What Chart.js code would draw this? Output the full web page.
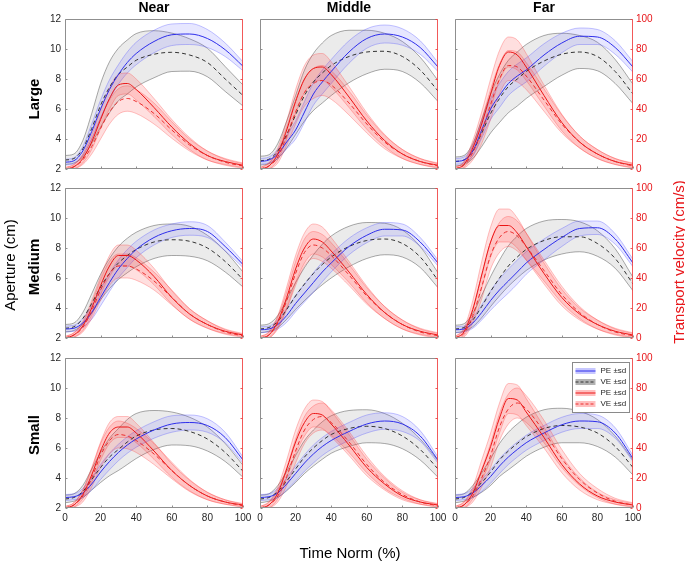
<!DOCTYPE html>
<html>
<head>
<meta charset="utf-8">
<script src="https://cdn.jsdelivr.net/npm/chart.js@4.4.0/dist/chart.umd.min.js"></script>
<style>
  body { margin: 0; background: #fff; width: 685px; height: 562px; position: relative; overflow: hidden;
         font-family: "Liberation Sans", Arial, sans-serif; }
  canvas { position: absolute; }
  .lbl { position: absolute; white-space: nowrap; line-height: 1; }
  .title { font-weight: bold; font-size: 14px; transform: translate(-50%, 0); }
  .row { font-weight: bold; font-size: 15px; transform: translate(-50%, -50%) rotate(-90deg); }
  .axis { font-size: 15px; transform: translate(-50%, -50%); }
  .vert { transform: translate(-50%, -50%) rotate(-90deg); }
</style>
</head>
<body>

<script>
// time axis samples (% of movement)
const timePts = [0, 5, 10, 15, 20, 25, 30, 35, 40, 50, 60, 70, 80, 90, 100];
const apertureTicks = [2, 4, 6, 8, 10, 12];
const velocityTicks = [0, 20, 40, 60, 80, 100];
const timeTicks = [0, 20, 40, 60, 80, 100];

// ---- Near / Large ----
const nearLargeApPE   = [2.45, 2.55, 3.2, 4.5, 6.0, 7.3, 8.3, 9.1, 9.7, 10.5, 10.95, 11.0, 10.7, 9.95, 8.85];
const nearLargeApPEsd = [0.2, 0.2, 0.3, 0.5, 0.6, 0.65, 0.65, 0.7, 0.75, 0.75, 0.72, 0.7, 0.6, 0.45, 0.3];
const nearLargeApVE   = [2.6, 2.7, 3.35, 4.7, 6.25, 7.45, 8.3, 8.8, 9.25, 9.65, 9.78, 9.6, 9.1, 8.0, 6.9];
const nearLargeApVEsd = [0.3, 0.3, 0.55, 1.0, 1.45, 1.7, 1.75, 1.8, 1.78, 1.57, 1.28, 1.08, 0.95, 0.83, 0.7];
const nearLargeVPE    = [0, 1.5, 7, 18, 33, 47, 56, 57, 53, 41, 28, 17, 9, 5, 2.5];
const nearLargeVPEsd  = [1, 1.5, 3, 5, 6, 7, 7, 7, 7, 6, 5, 4, 3, 2, 1.5];
const nearLargeVVE    = [0, 1.5, 6, 15, 27, 38, 45, 47, 45, 37, 26, 16, 9, 4.5, 2];
const nearLargeVVEsd  = [1, 1.5, 3, 5, 7, 8, 8.5, 8.5, 8, 7, 5.5, 4, 3, 2, 1.5];

// ---- Middle / Large ----
const midLargeApPE   = [2.5, 2.6, 3.0, 3.8, 4.6, 5.8, 7.0, 7.8, 8.5, 9.8, 10.7, 11.0, 10.8, 10.1, 8.8];
const midLargeApPEsd = [0.2, 0.2, 0.3, 0.45, 0.6, 0.7, 0.75, 0.8, 0.8, 0.75, 0.65, 0.6, 0.55, 0.45, 0.3];
const midLargeApVE   = [2.55, 2.65, 3.2, 4.3, 5.6, 6.9, 7.8, 8.4, 8.9, 9.5, 9.8, 9.85, 9.5, 8.6, 7.2];
const midLargeApVEsd = [0.3, 0.3, 0.5, 0.9, 1.3, 1.7, 1.9, 2.0, 2.0, 1.75, 1.45, 1.2, 1.0, 0.85, 0.7];
const midLargeVPE    = [0, 2, 10, 26, 45, 60, 67, 68, 63, 48, 32, 19, 10, 5, 2.5];
const midLargeVPEsd  = [1, 2, 4, 6, 8, 9, 9, 9, 8.5, 7, 5.5, 4, 3, 2, 1.5];
const midLargeVVE    = [0, 2, 8, 22, 38, 51, 57, 59, 56, 44, 30, 18, 10, 5, 2];
const midLargeVVEsd  = [1, 2, 4, 6, 8, 9, 10, 10, 9.5, 8, 6, 4.5, 3, 2, 1.5];

// ---- Far / Large ----
const farLargeApPE   = [2.5, 2.6, 3.2, 4.6, 6.0, 6.9, 7.7, 8.2, 8.6, 9.6, 10.4, 10.85, 10.8, 10.1, 8.8];
const farLargeApPEsd = [0.2, 0.2, 0.35, 0.55, 0.7, 0.8, 0.8, 0.8, 0.8, 0.75, 0.65, 0.55, 0.5, 0.45, 0.35];
const farLargeApVE   = [2.5, 2.6, 3.2, 4.4, 5.7, 6.7, 7.5, 8.0, 8.5, 9.2, 9.65, 9.8, 9.5, 8.5, 7.0];
const farLargeApVEsd = [0.3, 0.3, 0.5, 0.9, 1.3, 1.6, 1.75, 1.8, 1.8, 1.7, 1.4, 1.1, 0.95, 0.8, 0.65];
const farLargeVPE    = [0, 3, 14, 30, 50, 69, 78, 76, 68, 49, 31, 18, 10, 5, 2.5];
const farLargeVPEsd  = [1, 2, 5, 8, 10, 10, 10, 10, 9, 7, 5.5, 4, 3, 2, 1.5];
const farLargeVVE    = [0, 2.5, 11, 25, 43, 60, 69, 68, 62, 46, 30, 18, 10, 5, 2];
const farLargeVVEsd  = [1, 2, 5, 8, 10, 10, 10, 10, 9, 7.5, 6, 4, 3, 2, 1.5];

// ---- Near / Medium ----
const nearMedApPE   = [2.6, 2.65, 3.0, 3.7, 4.7, 5.7, 6.6, 7.3, 7.9, 8.7, 9.15, 9.3, 9.1, 8.1, 6.9];
const nearMedApPEsd = [0.2, 0.2, 0.3, 0.45, 0.55, 0.6, 0.6, 0.6, 0.55, 0.5, 0.45, 0.45, 0.4, 0.3, 0.2];
const nearMedApVE   = [2.65, 2.75, 3.3, 4.3, 5.4, 6.3, 7.0, 7.5, 7.9, 8.4, 8.55, 8.45, 8.0, 7.1, 5.9];
const nearMedApVEsd = [0.25, 0.25, 0.4, 0.65, 0.85, 1.0, 1.1, 1.15, 1.15, 1.1, 1.05, 1.0, 0.85, 0.7, 0.5];
const nearMedVPE    = [0, 2, 8, 20, 35, 48, 55, 55, 52, 41, 27, 16, 9, 4.5, 2];
const nearMedVPEsd  = [1, 1.5, 3, 5, 6, 7, 7, 7, 6.5, 5.5, 4.5, 3.5, 2.5, 1.5, 1];
const nearMedVVE    = [0, 2, 7, 18, 32, 43, 48, 48, 46, 38, 27, 16, 9, 4, 1.5];
const nearMedVVEsd  = [1, 1.5, 3, 5, 7, 8, 8, 8, 7.5, 6, 5, 3.5, 2.5, 1.5, 1];

// ---- Middle / Medium ----
const midMedApPE   = [2.55, 2.6, 2.9, 3.5, 4.3, 5.0, 5.7, 6.4, 7.0, 8.1, 8.85, 9.25, 9.2, 8.4, 7.0];
const midMedApPEsd = [0.2, 0.2, 0.3, 0.45, 0.55, 0.6, 0.65, 0.65, 0.6, 0.55, 0.5, 0.45, 0.4, 0.3, 0.2];
const midMedApVE   = [2.6, 2.7, 3.1, 3.9, 4.8, 5.6, 6.3, 6.9, 7.4, 8.1, 8.5, 8.6, 8.3, 7.4, 5.85];
const midMedApVEsd = [0.25, 0.25, 0.4, 0.65, 0.9, 1.1, 1.25, 1.35, 1.4, 1.35, 1.2, 1.05, 0.9, 0.7, 0.5];
const midMedVPE    = [0, 2, 11, 27, 46, 60, 66, 64, 58, 44, 29, 17, 9, 4.5, 2];
const midMedVPEsd  = [1, 2, 4, 7, 9, 10, 10, 10, 9, 7, 5.5, 4, 3, 2, 1.5];
const midMedVVE    = [0, 2, 10, 25, 43, 57, 62, 60, 55, 42, 28, 17, 9, 4, 1.5];
const midMedVVEsd  = [1, 2, 4, 6, 8, 9, 9, 9, 8.5, 7, 5.5, 4, 3, 2, 1.5];

// ---- Far / Medium ----
const farMedApPE   = [2.55, 2.6, 3.0, 3.7, 4.5, 5.2, 5.8, 6.4, 7.0, 7.9, 8.7, 9.3, 9.35, 8.6, 7.0];
const farMedApPEsd = [0.2, 0.2, 0.35, 0.5, 0.65, 0.75, 0.8, 0.8, 0.75, 0.7, 0.6, 0.5, 0.45, 0.35, 0.25];
const farMedApVE   = [2.6, 2.7, 3.2, 4.1, 5.1, 6.0, 6.8, 7.4, 7.9, 8.5, 8.75, 8.75, 8.3, 7.3, 5.6];
const farMedApVEsd = [0.25, 0.25, 0.45, 0.75, 1.0, 1.2, 1.35, 1.4, 1.4, 1.3, 1.15, 1.0, 0.85, 0.65, 0.45];
const farMedVPE    = [0, 4, 19, 42, 64, 75, 75, 70, 61, 43, 27, 16, 9, 4.5, 2];
const farMedVPEsd  = [1, 2.5, 6, 9, 10, 11, 11, 10, 9, 7, 5.5, 4, 3, 2, 1.5];
const farMedVVE    = [0, 3, 15, 34, 55, 67, 71, 68, 61, 45, 29, 17, 9, 4, 1.5];
const farMedVVEsd  = [1, 2.5, 5, 8, 9, 10, 10, 10, 9, 7, 5.5, 4, 3, 2, 1.5];

// ---- Near / Small ----
const nearSmallApPE   = [2.7, 2.75, 3.0, 3.6, 4.4, 5.1, 5.7, 6.2, 6.6, 7.2, 7.6, 7.7, 7.5, 6.7, 5.2];
const nearSmallApPEsd = [0.2, 0.2, 0.3, 0.4, 0.5, 0.55, 0.55, 0.55, 0.55, 0.55, 0.55, 0.5, 0.45, 0.35, 0.2];
const nearSmallApVE   = [2.6, 2.7, 3.1, 3.9, 4.7, 5.4, 5.9, 6.4, 6.8, 7.2, 7.3, 7.1, 6.6, 5.7, 4.45];
const nearSmallApVEsd = [0.25, 0.25, 0.4, 0.7, 1.0, 1.25, 1.4, 1.5, 1.5, 1.3, 1.1, 0.95, 0.8, 0.6, 0.4];
const nearSmallVPE    = [0, 2, 9, 22, 38, 50, 54, 54, 50, 38, 25, 15, 8, 4, 2];
const nearSmallVPEsd  = [1, 1.5, 3, 5, 6, 7, 7, 7, 6.5, 5.5, 4.5, 3.5, 2.5, 1.5, 1];
const nearSmallVVE    = [0, 2, 8, 20, 35, 45, 49, 48, 45, 36, 25, 15, 8, 4, 1.5];
const nearSmallVVEsd  = [1, 1.5, 4, 6, 8, 9, 9, 8.5, 8, 7, 5.5, 4, 2.5, 1.5, 1];

// ---- Middle / Small ----
const midSmallApPE   = [2.7, 2.75, 3.0, 3.6, 4.3, 5.0, 5.6, 6.1, 6.5, 7.1, 7.6, 7.8, 7.6, 6.8, 5.2];
const midSmallApPEsd = [0.2, 0.2, 0.3, 0.4, 0.5, 0.55, 0.6, 0.6, 0.6, 0.6, 0.6, 0.55, 0.5, 0.35, 0.2];
const midSmallApVE   = [2.6, 2.7, 3.1, 3.8, 4.6, 5.4, 6.0, 6.5, 6.9, 7.3, 7.45, 7.3, 6.8, 5.9, 4.6];
const midSmallApVEsd = [0.25, 0.25, 0.4, 0.65, 0.9, 1.1, 1.2, 1.25, 1.25, 1.2, 1.1, 1.0, 0.85, 0.7, 0.55];
const midSmallVPE    = [0, 2, 10, 26, 44, 57, 63, 62, 56, 42, 27, 16, 8, 4, 2];
const midSmallVPEsd  = [1, 2, 4, 6, 8, 9, 9, 9, 8.5, 7, 5.5, 4, 2.5, 1.5, 1];
const midSmallVVE    = [0, 2, 8, 21, 38, 52, 59, 61, 57, 44, 29, 17, 9, 4, 1.5];
const midSmallVVEsd  = [1, 2, 4, 6, 8, 9, 9, 9, 8.5, 7, 5.5, 4, 2.5, 1.5, 1];

// ---- Far / Small ----
const farSmallApPE   = [2.7, 2.75, 3.0, 3.5, 4.1, 4.8, 5.4, 5.9, 6.35, 7.0, 7.55, 7.8, 7.75, 7.0, 5.3];
const farSmallApPEsd = [0.2, 0.2, 0.3, 0.4, 0.45, 0.5, 0.5, 0.5, 0.5, 0.5, 0.5, 0.5, 0.45, 0.35, 0.2];
const farSmallApVE   = [2.6, 2.7, 3.1, 3.7, 4.4, 5.2, 5.8, 6.3, 6.75, 7.3, 7.5, 7.4, 7.0, 6.1, 4.7];
const farSmallApVEsd = [0.25, 0.25, 0.4, 0.65, 0.9, 1.1, 1.25, 1.3, 1.3, 1.25, 1.15, 1.05, 0.9, 0.7, 0.5];
const farSmallVPE    = [0, 2, 10, 25, 41, 60, 73, 72, 64, 47, 29, 16, 8, 4, 2];
const farSmallVPEsd  = [1, 2, 4, 7, 9, 10, 10, 10, 9, 7, 5.5, 4, 2.5, 1.5, 1];
const farSmallVVE    = [0, 2, 8, 20, 35, 54, 66, 70, 66, 51, 33, 19, 10, 4.5, 2];
const farSmallVVEsd  = [1, 2, 4, 6, 8, 9, 10, 10, 9, 7.5, 6, 4, 3, 2, 1.5];

const colLabels = ['Near', 'Middle', 'Far'];
const rowLabels = ['Large', 'Medium', 'Small'];

const panels = [
  [nearLargeApPE, nearLargeApPEsd, nearLargeApVE, nearLargeApVEsd, nearLargeVPE, nearLargeVPEsd, nearLargeVVE, nearLargeVVEsd],
  [midLargeApPE, midLargeApPEsd, midLargeApVE, midLargeApVEsd, midLargeVPE, midLargeVPEsd, midLargeVVE, midLargeVVEsd],
  [farLargeApPE, farLargeApPEsd, farLargeApVE, farLargeApVEsd, farLargeVPE, farLargeVPEsd, farLargeVVE, farLargeVVEsd],
  [nearMedApPE, nearMedApPEsd, nearMedApVE, nearMedApVEsd, nearMedVPE, nearMedVPEsd, nearMedVVE, nearMedVVEsd],
  [midMedApPE, midMedApPEsd, midMedApVE, midMedApVEsd, midMedVPE, midMedVPEsd, midMedVVE, midMedVVEsd],
  [farMedApPE, farMedApPEsd, farMedApVE, farMedApVEsd, farMedVPE, farMedVPEsd, farMedVVE, farMedVVEsd],
  [nearSmallApPE, nearSmallApPEsd, nearSmallApVE, nearSmallApVEsd, nearSmallVPE, nearSmallVPEsd, nearSmallVVE, nearSmallVVEsd],
  [midSmallApPE, midSmallApPEsd, midSmallApVE, midSmallApVEsd, midSmallVPE, midSmallVPEsd, midSmallVVE, midSmallVVEsd],
  [farSmallApPE, farSmallApPEsd, farSmallApVE, farSmallApVEsd, farSmallVPE, farSmallVPEsd, farSmallVVE, farSmallVVEsd]
];

// layout of the plot boxes on the page
const plotLefts = [65, 260, 455];
const plotTops = [19, 188, 358];
const PW = 178, PH = 150;
const AXW = 30, PADT = 6, XAH = 20;

const FONT = '"Liberation Sans", Arial, sans-serif';
const RED = 'rgb(232,22,26)';
const styles = {
  apPE: { line: 'rgb(45,45,235)', band: 'rgba(70,70,255,0.13)', edge: 'rgba(70,70,255,0.4)', dash: [] },
  apVE: { line: '#333', band: 'rgba(0,0,0,0.08)', edge: 'rgba(0,0,0,0.42)', dash: [4, 3] },
  vPE: { line: 'rgb(235,20,20)', band: 'rgba(255,40,40,0.15)', edge: 'rgba(255,40,40,0.35)', dash: [] },
  vVE: { line: 'rgb(235,45,45)', band: 'rgba(255,40,40,0.15)', edge: 'rgba(255,40,40,0.35)', dash: [4, 3] }
};

function pts(arr) {
  return timePts.map((t, i) => ({ x: t, y: arr[i] }));
}

function addSeries(list, mean, sd, axis, st, bandOrder) {
  const upper = mean.map((m, i) => m + sd[i]);
  const lower = mean.map((m, i) => m - sd[i]);
  const common = { yAxisID: axis, pointRadius: 0, borderWidth: 0.8, cubicInterpolationMode: 'monotone' };
  list.push({ ...common, data: pts(upper), borderColor: st.edge, backgroundColor: st.band, fill: '+1', order: bandOrder });
  list.push({ ...common, data: pts(lower), borderColor: st.edge, fill: false, order: bandOrder });
  list.push({ ...common, data: pts(mean), borderColor: st.line, borderWidth: 1, borderDash: st.dash, fill: false, order: 1 });
}

// keep every plot box the same size whatever labels are shown
function fixScale(s, size) {
  if (s.isHorizontal()) s.height = size; else s.width = size;
  s.paddingTop = 0; s.paddingBottom = 0; s.paddingLeft = 0; s.paddingRight = 0;
}

// box round each plot, grey with a red right side, small inward ticks
const framePlugin = {
  id: 'frame',
  afterDatasetsDraw(chart) {
    const { ctx, chartArea: a, scales } = chart;
    const L = Math.round(a.left) + 0.5, R = Math.round(a.right) - 0.5;
    const T = Math.round(a.top) + 0.5, B = Math.round(a.bottom) - 0.5;
    ctx.save();
    ctx.lineWidth = 1;
    ctx.strokeStyle = '#8f8f8f';
    ctx.beginPath();
    ctx.moveTo(R, T); ctx.lineTo(L, T); ctx.lineTo(L, B); ctx.lineTo(R, B);
    apertureTicks.forEach(v => { const y = Math.round(scales.ap.getPixelForValue(v)) + 0.5; ctx.moveTo(L, y); ctx.lineTo(L + 2, y); });
    timeTicks.forEach(v => { const x = Math.round(scales.x.getPixelForValue(v)) + 0.5; ctx.moveTo(x, B); ctx.lineTo(x, B - 2); });
    ctx.stroke();
    ctx.strokeStyle = 'rgba(240,60,60,0.85)';
    ctx.beginPath();
    ctx.moveTo(R, T); ctx.lineTo(R, B);
    velocityTicks.forEach(v => { const y = Math.round(scales.v.getPixelForValue(v)) + 0.5; ctx.moveTo(R, y); ctx.lineTo(R - 2, y); });
    ctx.stroke();
    ctx.restore();
  }
};

// legend box in the last panel
const legendItems = [
  { text: 'PE \u00b1sd', st: styles.apPE },
  { text: 'VE \u00b1sd', st: styles.apVE },
  { text: 'PE \u00b1sd', st: styles.vPE },
  { text: 'VE \u00b1sd', st: styles.vVE }
];
const legendPlugin = {
  id: 'bandLegend',
  afterDraw(chart) {
    const { ctx, chartArea: a } = chart;
    const w = 57, h = 50;
    const x0 = Math.round(a.right) - 4 - w + 0.5, y0 = Math.round(a.top) + 4 + 0.5;
    ctx.save();
    ctx.fillStyle = '#fff';
    ctx.fillRect(x0, y0, w, h);
    ctx.strokeStyle = '#8a8a8a';
    ctx.lineWidth = 1;
    ctx.strokeRect(x0, y0, w, h);
    ctx.font = '8px ' + FONT;
    ctx.textBaseline = 'middle';
    legendItems.forEach((it, i) => {
      const cy = y0 + 8.5 + i * 11;
      ctx.fillStyle = it.st.band.replace(/0\.\d+\)$/, '0.3)');
      ctx.fillRect(x0 + 3, cy - 3, 20, 6);
      ctx.strokeStyle = it.st.line;
      ctx.setLineDash(it.st.dash.length ? [3, 2] : []);
      ctx.beginPath();
      ctx.moveTo(x0 + 3, cy); ctx.lineTo(x0 + 23, cy);
      ctx.stroke();
      ctx.setLineDash([]);
      ctx.fillStyle = '#262626';
      ctx.fillText(it.text, x0 + 28, cy);
    });
    ctx.restore();
  }
};

panels.forEach((p, k) => {
  const col = k % 3, row = Math.floor(k / 3);
  const canvas = document.createElement('canvas');
  canvas.width = AXW * 2 + PW;
  canvas.height = PADT + PH + XAH;
  canvas.style.left = (plotLefts[col] - AXW) + 'px';
  canvas.style.top = (plotTops[row] - PADT) + 'px';
  document.body.appendChild(canvas);

  const datasets = [];
  addSeries(datasets, p[6], p[7], 'v', styles.vVE, 3);
  addSeries(datasets, p[4], p[5], 'v', styles.vPE, 4);
  addSeries(datasets, p[0], p[1], 'ap', styles.apPE, 5);
  addSeries(datasets, p[2], p[3], 'ap', styles.apVE, 6);

  const tickFont = { family: FONT, size: 10 };
  const chartPlugins = [framePlugin];
  if (k === 8) chartPlugins.push(legendPlugin);

  new Chart(canvas.getContext('2d'), {
    type: 'line',
    data: { datasets: datasets },
    options: {
      responsive: false,
      animation: false,
      devicePixelRatio: 1,
      layout: { padding: { top: PADT, left: 0, right: 0, bottom: 0 } },
      scales: {
        x: {
          type: 'linear', min: 0, max: 100,
          afterBuildTicks: s => { s.ticks = timeTicks.map(v => ({ value: v })); },
          afterFit: s => fixScale(s, XAH),
          grid: { display: false, drawTicks: false },
          border: { display: false },
          ticks: { display: row === 2, color: '#262626', font: tickFont, padding: 4, maxRotation: 0 }
        },
        ap: {
          position: 'left', min: 2, max: 12,
          afterBuildTicks: s => { s.ticks = apertureTicks.map(v => ({ value: v })); },
          afterFit: s => fixScale(s, AXW),
          grid: { display: false, drawTicks: false },
          border: { display: false },
          ticks: { display: col === 0, color: '#262626', font: tickFont, padding: 4 }
        },
        v: {
          position: 'right', min: 0, max: 100,
          afterBuildTicks: s => { s.ticks = velocityTicks.map(v => ({ value: v })); },
          afterFit: s => fixScale(s, AXW),
          grid: { display: false, drawTicks: false },
          border: { display: false },
          ticks: { display: col === 2, color: RED, font: tickFont, padding: 3 }
        }
      },
      plugins: { legend: { display: false }, tooltip: { enabled: false } }
    },
    plugins: chartPlugins
  });
});

// text labels
function addLabel(text, cls, x, y, color) {
  const d = document.createElement('div');
  d.className = 'lbl ' + cls;
  d.textContent = text;
  d.style.left = x + 'px';
  d.style.top = y + 'px';
  if (color) d.style.color = color;
  document.body.appendChild(d);
}
colLabels.forEach((t, i) => addLabel(t, 'title', plotLefts[i] + PW / 2, 0));
const rowCenters = [99, 267, 435];
rowLabels.forEach((t, i) => addLabel(t, 'row', 33, rowCenters[i]));
addLabel('Aperture (cm)', 'axis vert', 9, 265);
addLabel('Transport velocity (cm/s)', 'axis vert', 678, 262, RED);
addLabel('Time Norm (%)', 'axis', 350, 552);
</script>
</body>
</html>
